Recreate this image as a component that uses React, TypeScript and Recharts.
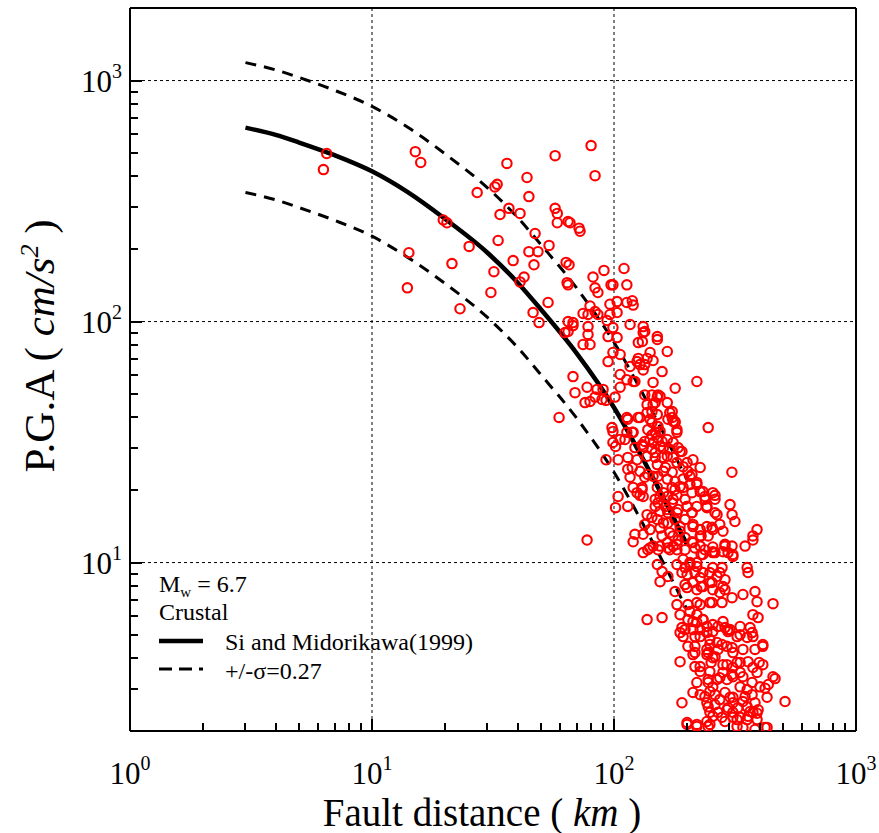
import React from "react";
import {
  ComposedChart,
  Scatter,
  Line,
  XAxis,
  YAxis,
  ReferenceLine,
  Legend,
} from "recharts";

const FONT = "'Liberation Serif', 'Times New Roman', serif";

// model curve (Si and Midorikawa 1999, Mw 6.7 crustal)
const curveDist = [3, 4, 5, 7, 10, 14, 20, 30, 40, 50, 70, 100, 140, 200];
const meanPga = [638, 595, 553, 490, 420, 345, 267, 193, 145, 112, 74, 44, 24, 11.9];
const plusSigmaPga = [1187, 1107, 1029, 911, 781, 642, 497, 359, 270, 208, 138, 82, 44.6, 22.1];
const minusSigmaPga = [343, 320, 297, 263, 226, 185, 144, 104, 78, 60, 39.8, 23.7, 12.9, 6.4];

// observed records [fault distance km, PGA cm/s2]
const nearRecords: [number, number][] = [
  [6.5, 498], [6.3, 427], [15.1, 507], [15.9, 457], [14.2, 193], [14.0, 138],
  [19.7, 264], [20.4, 257], [25.2, 205], [21.4, 174], [23.1, 113], [27.2, 343],
  [36.1, 453], [43.7, 396], [32.2, 362], [32.9, 371], [44.5, 330], [36.8, 295],
  [40.9, 281], [33.8, 278], [33.2, 217], [47.2, 232], [53.9, 207], [44.5, 195],
  [48.5, 195], [38.3, 179], [46.7, 172], [31.9, 161], [42.5, 153], [40.9, 146],
  [31.0, 132], [53.4, 120], [46.3, 109], [49.0, 99], [57.1, 488], [58.3, 281],
  [57.1, 295], [58.3, 257], [59.3, 40],
];

const midRecords: [number, number][] = [
  [80.4, 537], [83.5, 403], [64.6, 260], [65.8, 257], [71.7, 244], [72.4, 237],
  [63.4, 176], [65.2, 172], [90.9, 163], [81.9, 153], [64.0, 145], [64.6, 142],
  [97.2, 142], [99, 142], [83.5, 138], [85.8, 132], [96.2, 118], [79.6, 116],
  [83.5, 110], [74.5, 108], [78.1, 107], [96.2, 107], [93.6, 101], [64.6, 100],
  [67.7, 99], [78.1, 95.3], [99, 94.4], [85.8, 107], [67.7, 96.2], [78.1, 88.4],
  [64.6, 90.9], [62.7, 90.0], [94.5, 86.6], [74.5, 80.3], [79.6, 80.3], [99, 74.4],
  [94.5, 68.2], [67.7, 59.1], [77.4, 53.4], [85.1, 52.3], [69.0, 50.7], [90.1, 52.3],
  [83.5, 48.6], [89.2, 47.5], [75.9, 46.1], [79.6, 46.6], [98.1, 36.3], [99, 31.5],
  [92.7, 47.1], [99, 35.0], [92.7, 26.7], [77.4, 12.4],
];

const farRecords: [number, number][] = [
  [110, 166], [113, 142], [103, 121], [113, 120], [119, 122], [120, 117], [103, 109],
  [116.5, 97.2], [132, 95.3], [134, 90.9], [151, 86.6], [151, 84.2], [132, 90],
  [103, 85.8], [126, 81.8], [131, 82.6], [106, 73], [166, 75.1], [141, 74.4],
  [137, 70.3], [145, 68.9], [126, 70.3], [124.5, 68.2], [128, 66.3], [116.5, 65.1],
  [132, 63], [134, 66.3], [158, 62], [106, 60.3], [113, 57.4], [122, 56.4],
  [145, 55.9], [220, 56.4], [179, 52.9], [143.5, 49.6], [151, 48.6], [155, 49.0],
  [101, 48.6], [106, 53.4], [137, 45.2], [145, 45.2], [166, 46.1], [170, 41.9],
  [174, 40.0], [175.5, 38.5], [137, 41.9], [143.5, 42.3], [151, 41.1], [113, 40.0],
  [128, 40.0], [143.5, 38.1], [151, 36.7], [155, 35.0], [148, 34.7], [182, 35.6],
  [113, 34.7], [106, 32.4], [166, 32.4], [175.5, 31.5], [130.6, 30.8], [145, 31.5],
  [148, 46.1], [178.7, 38.1], [140.8, 39.3], [152, 36.7], [114, 39.3], [125.7, 40],
  [120, 34.7], [245, 36.3], [182, 34.7], [101.5, 30.3], [140.8, 32.4], [151, 33.0],
  [155, 30.3], [132, 30.3], [148, 28.6], [170, 29.5], [187.5, 28.9], [166, 27.6],
  [175.5, 27.3], [182, 26.0], [104, 26.7], [124.5, 26.7], [137, 27.6], [212, 26.7],
  [227, 24.8], [193, 25.0], [114, 24.4], [128, 23.9], [116.5, 22.6], [307, 23.7],
  [151, 25.5], [160, 23.9], [145, 22.8], [166, 22.2], [178.7, 21.7], [174, 20.5],
  [193, 22.2], [187.5, 20.7], [206, 21.1], [220, 21.1], [120, 20.5], [124.5, 19.5],
  [130.6, 20.1], [132, 18.8], [151, 20.5], [148, 18.3], [155, 18.8], [233, 19.7],
  [238, 18.3], [256, 19.5], [261.5, 18.3], [166, 18.8], [175.5, 18.3], [182, 19.0],
  [196.6, 18.3], [200.4, 17.1], [104, 18.8], [101.5, 16.9], [114, 17.1], [148, 17.1],
  [155, 16.3], [166, 16.6], [182, 16.1], [210, 16.1], [220, 17.1], [242, 16.9],
  [266.5, 15.8], [301.6, 17.4], [307.5, 15.8], [316, 14.8], [137, 15.8], [151, 15.1],
  [160, 14.6], [132, 13.1], [120, 12.2], [155, 13.9], [158, 12.9], [170, 13.3],
  [187.5, 13.5], [212, 14.1], [227, 12.9], [242, 14.1], [256, 13.7], [390, 13.7],
  [375, 12.9], [348, 11.7], [287.5, 11.9], [307.5, 11.7], [256, 11.6], [166, 12.1],
  [175.5, 11.7], [145, 11.7], [212, 12.1], [227, 11.7],
  [120, 56.4], [134, 49.6], [152, 49.6], [174, 42.3], [167, 39.3], [178.7, 38.5],
  [119, 34.7], [138, 35.6], [143.5, 33.8], [158, 31.8], [134, 31.8], [111, 32.4],
  [122, 30.0], [143.5, 29.5], [160, 30.0], [184, 30.0], [190.9, 28.9], [114, 27.3],
  [148, 27.3], [158, 27.3], [200.4, 26.0], [119, 24.8], [163, 24.8], [202, 23.9],
  [210, 23.2], [134, 22.6], [152, 22.8], [138, 23.2], [174, 23.7], [206, 22.8],
  [220, 21.5], [130.6, 20.5], [128, 19.0], [160, 19.5], [178.7, 20.1], [193, 20.5],
  [210, 19.5], [227, 19.7], [237.6, 18.8], [261.5, 19.0], [152, 17.7], [163, 17.1],
  [174, 17.7], [167, 16.1], [184, 16.6], [200.4, 17.1], [210, 16.1], [242, 17.1],
  [261.5, 16.1], [143.5, 15.4], [167, 14.6], [178.7, 15.1], [187.5, 14.1], [196.6, 15.1],
  [212, 14.4], [227, 13.7], [134, 14.4], [140.8, 13.7], [254, 14.0], [273.6, 14.4],
  [282, 13.5], [122, 13.1], [175.5, 12.9], [184, 12.4], [196.6, 12.7], [210, 12.2],
  [229, 12.9], [245, 12.9], [140.8, 11.5], [132, 11.0], [152, 11.3], [167, 11.5],
  [182, 11.3], [216, 11.5], [237.6, 11.3], [261.5, 11.0], [282, 11.1],
];

const tailRecords: [number, number][] = [
  [138, 11.3], [155, 11.7], [170, 11.3], [182, 11.9], [196.6, 11.3], [233, 10.8],
  [256, 11.1], [287.5, 11.7], [310, 10.6], [296, 11.0], [375, 12.4], [151, 9.81],
  [158, 9.17], [155, 8.33], [167, 8.75], [182, 9.81], [190.9, 9.09], [196.6, 9.53],
  [206, 10.0], [216, 9.09], [220, 9.62], [227, 8.66], [249, 9.09], [256, 9.53],
  [279.5, 9.53], [266.5, 8.75], [287.5, 8.49], [249, 8.26], [178.7, 7.58], [200.4, 7.87],
  [220, 7.72], [233, 7.95], [256, 7.72], [287.5, 7.72], [273.6, 7.51], [355, 9.53],
  [358, 9.09], [307.5, 7.15], [341, 7.37], [382.5, 7.58], [390, 6.88], [454, 6.75],
  [182, 6.69], [202, 6.69], [227, 6.69], [249, 6.82], [279.5, 6.82], [137, 5.8],
  [158, 5.91], [187.5, 6.08], [206, 6.26], [220, 6.08], [375, 6.08], [394, 5.91],
  [202, 5.8], [220, 5.64], [233, 5.8], [242, 5.43], [190.9, 5.37], [193, 4.93],
  [212, 5.27], [227, 4.93], [269, 5.43], [282, 5.69], [287.5, 5.37], [301.6, 5.27],
  [332, 5.43], [365, 5.37], [322.5, 4.93], [355, 4.89], [375, 4.93], [249, 4.80],
  [266.5, 4.66], [202, 4.49], [216, 4.49], [242, 4.36], [269, 4.36], [293, 4.49],
  [310, 4.23], [341, 4.36], [382.5, 4.36], [412, 4.49], [187.5, 3.88], [216, 3.7],
  [212, 4.15], [242, 4.15], [261.5, 4.07], [293, 3.77], [310, 3.67], [332, 3.85],
  [375, 3.67], [412, 3.77], [227, 3.53], [249, 3.53], [266.5, 3.27], [282, 3.5],
  [293, 3.27], [310, 3.36], [332, 3.5], [390, 3.5], [454, 3.36], [434, 3.12],
  [220, 3.18], [245, 3.18], [256, 3.05], [212, 2.89], [227, 2.83], [249, 2.92],
  [261.5, 2.83], [287.5, 2.89], [332, 3.05], [355, 2.97], [401, 3.05], [421, 3.01],
  [190.9, 2.62], [242, 2.62], [261.5, 2.57], [273.6, 2.70], [301.6, 2.76], [310, 2.62],
  [341, 2.65], [355, 2.52], [382.5, 2.62], [394, 2.45], [509, 2.65], [249, 2.39],
  [269, 2.39], [293, 2.45], [310, 2.39], [332, 2.28], [358, 2.30], [375, 2.39],
  [390, 2.23], [200.4, 2.17], [220, 2.13], [242, 2.19], [249, 2.13], [287.5, 2.19],
  [322.5, 2.23], [355, 2.23], [421, 2.07], [382.5, 2.03],
  [229, 10.8], [256, 11.0], [310, 10.8], [193, 10.3], [206, 9.81], [220, 10.0],
  [200.4, 8.92], [233, 9.09], [273.6, 9.09], [196.6, 8.1], [212, 8.26], [229, 7.95],
  [254, 8.26], [282, 7.95], [254, 6.82], [220, 6.82], [212, 5.69], [233, 5.8],
  [256, 5.53], [296, 5.27], [196.6, 5.27], [227, 5.27], [256, 5.17], [187.5, 5.12],
  [216, 4.93], [242, 5.12], [296, 5.17], [332, 5.02], [372, 5.12], [249, 4.57],
  [279.5, 4.57], [307.5, 4.44], [412, 4.57], [216, 4.23], [245, 4.23], [256, 4.03],
  [227, 3.7], [252, 3.85], [282, 3.77], [322.5, 3.85], [358, 3.88], [398, 3.85],
  [245, 3.27], [273.6, 3.33], [307.5, 3.43], [341, 3.36], [372, 3.18], [463, 3.3],
  [237.6, 2.78], [310, 2.76], [348, 2.78], [372, 2.83], [429, 2.76], [245, 2.52],
  [296, 2.50], [325, 2.50], [365, 2.41], [390, 2.37], [256, 2.30], [279.5, 2.28],
  [310, 2.28], [200.4, 2.13], [220, 2.09], [245, 2.09], [322.5, 2.09], [341, 2.07],
  [429, 2.07],
];

const X_DOMAIN: [number, number] = [1, 1000];
const Y_DOMAIN: [number, number] = [2, 2000];
const xMajor = [1, 10, 100, 1000];
const xTicks = [
  1, 2, 3, 4, 5, 6, 7, 8, 9, 10, 20, 30, 40, 50, 60, 70, 80, 90,
  100, 200, 300, 400, 500, 600, 700, 800, 900, 1000,
];
const yMajor = [10, 100, 1000];
const yTicks = [
  3, 4, 5, 6, 7, 8, 9, 10, 20, 30, 40, 50, 60, 70, 80, 90,
  100, 200, 300, 400, 500, 600, 700, 800, 900, 1000,
];
const exponentOf: Record<number, string> = { 1: "0", 10: "1", 100: "2", 1000: "3" };

// chart frame (matches margins and axis sizes below)
const W = 879;
const H = 833;
const PLOT = { left: 130, right: W - 23, top: 8, bottom: H - 102 };

const observed = [...nearRecords, ...midRecords, ...farRecords, ...tailRecords].map(
  ([dist, pga]) => ({ dist, pga })
);
const curve = curveDist.map((dist, i) => ({
  dist,
  mean: meanPga[i],
  plus: plusSigmaPga[i],
  minus: minusSigmaPga[i],
}));

function XTick(props: any) {
  const { x, y, payload } = props;
  if (!xMajor.includes(payload.value)) return <g />;
  return (
    <text x={x} y={y + 53} textAnchor="middle" fontFamily={FONT} fontSize={31} fill="#000">
      10
      <tspan dy={-14} fontSize={20}>
        {exponentOf[payload.value]}
      </tspan>
    </text>
  );
}

function YTick(props: any) {
  const { x, y, payload } = props;
  if (!yMajor.includes(payload.value)) return <g />;
  return (
    <text x={x - 8} y={y + 11} textAnchor="end" fontFamily={FONT} fontSize={31} fill="#000">
      10
      <tspan dy={-14} fontSize={20}>
        {exponentOf[payload.value]}
      </tspan>
    </text>
  );
}

function Ring(props: any) {
  const { cx, cy } = props;
  if (cx == null || cy == null) return null;
  return <circle cx={cx} cy={cy} r={4.7} fill="none" stroke="#ff0000" strokeWidth={2.1} />;
}

function LegendBox() {
  return (
    <svg width={340} height={130} style={{ display: "block" }}>
      <g fontFamily={FONT} fontSize={24} fill="#000">
        <text x={9} y={32}>
          M
          <tspan dy={5} fontSize={15}>
            w
          </tspan>
          <tspan dy={-5}> = 6.7</tspan>
        </text>
        <text x={9} y={60}>Crustal</text>
        <line x1={9} x2={53} y1={81} y2={81} stroke="#000" strokeWidth={4.5} />
        <text x={75} y={90}>Si and Midorikawa(1999)</text>
        <line x1={9} x2={53} y1={109} y2={109} stroke="#000" strokeWidth={3} strokeDasharray="13 7" />
        <text x={75} y={119}>+/-σ=0.27</text>
      </g>
    </svg>
  );
}

// inward minor/major tick marks for the log axes, laid over the chart frame
function tickX(v: number) {
  const t = Math.log10(v / X_DOMAIN[0]) / Math.log10(X_DOMAIN[1] / X_DOMAIN[0]);
  return PLOT.left + t * (PLOT.right - PLOT.left);
}
function tickY(v: number) {
  const t = Math.log10(v / Y_DOMAIN[0]) / Math.log10(Y_DOMAIN[1] / Y_DOMAIN[0]);
  return PLOT.bottom - t * (PLOT.bottom - PLOT.top);
}

function AxisDecor() {
  return (
    <svg
      width={W}
      height={H}
      style={{ position: "absolute", left: 0, top: 0, pointerEvents: "none" }}
    >
      <g fill="#000">
        {xTicks
          .filter((v) => v > X_DOMAIN[0] && v < X_DOMAIN[1])
          .map((v) => {
            const len = xMajor.includes(v) ? 12 : 8;
            return (
              <rect key={`x${v}`} x={Math.round(tickX(v)) - 1} y={PLOT.bottom - len} width={2} height={len} />
            );
          })}
        {yTicks.map((v) => {
          const len = yMajor.includes(v) ? 12 : 8;
          return (
            <rect key={`y${v}`} x={PLOT.left} y={Math.round(tickY(v)) - 1} width={len} height={2} />
          );
        })}
      </g>
      <text x={482} y={826} textAnchor="middle" fontFamily={FONT} fontSize={39} fill="#000">
        Fault distance ( <tspan fontStyle="italic">km</tspan> )
      </text>
      <text
        x={54}
        y={346}
        transform="rotate(-90, 54, 346)"
        textAnchor="middle"
        fontFamily={FONT}
        fontSize={43}
        fill="#000"
      >
        P.G.A ( <tspan fontStyle="italic">cm/s</tspan>
        <tspan dy={-16} fontSize={26} fontStyle="italic">
          2
        </tspan>
        <tspan dy={16}> )</tspan>
      </text>
    </svg>
  );
}

export default function App() {
  return (
    <div style={{ position: "relative", width: W, height: H, background: "#fff" }}>
      <style>{"body{margin:0}"}</style>
      <ComposedChart
        width={W}
        height={H}
        margin={{ top: PLOT.top, right: W - PLOT.right, bottom: 0, left: 0 }}
      >
        <XAxis
          dataKey="dist"
          type="number"
          scale="log"
          domain={X_DOMAIN}
          allowDataOverflow
          ticks={xTicks}
          interval={0}
          tick={<XTick />}
          tickLine={false}
          tickSize={0}
          tickMargin={0}
          axisLine={{ stroke: "#000", strokeWidth: 2 }}
          height={H - PLOT.bottom}
        />
        <YAxis
          type="number"
          scale="log"
          domain={Y_DOMAIN}
          allowDataOverflow
          ticks={yTicks}
          interval={0}
          tick={<YTick />}
          tickLine={false}
          tickSize={0}
          tickMargin={0}
          axisLine={{ stroke: "#000", strokeWidth: 2 }}
          width={PLOT.left}
        />
        <ReferenceLine x={10} stroke="#000" strokeWidth={1} strokeDasharray="3 3" />
        <ReferenceLine x={100} stroke="#000" strokeWidth={1} strokeDasharray="3 3" />
        <ReferenceLine y={10} stroke="#000" strokeWidth={1} strokeDasharray="3 3" />
        <ReferenceLine y={100} stroke="#000" strokeWidth={1} strokeDasharray="3 3" />
        <ReferenceLine y={1000} stroke="#000" strokeWidth={1} strokeDasharray="3 3" />
        <ReferenceLine y={2000} stroke="#000" strokeWidth={2} />
        <ReferenceLine x={1000} stroke="#000" strokeWidth={2} />
        <Scatter data={observed} dataKey="pga" shape={<Ring />} isAnimationActive={false} />
        <Line
          data={curve}
          dataKey="plus"
          type="monotone"
          stroke="#000"
          strokeWidth={3}
          strokeDasharray="11 8"
          dot={false}
          activeDot={false}
          isAnimationActive={false}
        />
        <Line
          data={curve}
          dataKey="minus"
          type="monotone"
          stroke="#000"
          strokeWidth={3}
          strokeDasharray="11 8"
          dot={false}
          activeDot={false}
          isAnimationActive={false}
        />
        <Line
          data={curve}
          dataKey="mean"
          type="monotone"
          stroke="#000"
          strokeWidth={4.5}
          dot={false}
          activeDot={false}
          isAnimationActive={false}
        />
        <Legend
          layout="vertical"
          verticalAlign="middle"
          align="center"
          wrapperStyle={{ position: "absolute", left: 150, top: 560, width: 340, height: 130 }}
          content={() => <LegendBox />}
        />
      </ComposedChart>
      <AxisDecor />
    </div>
  );
}
